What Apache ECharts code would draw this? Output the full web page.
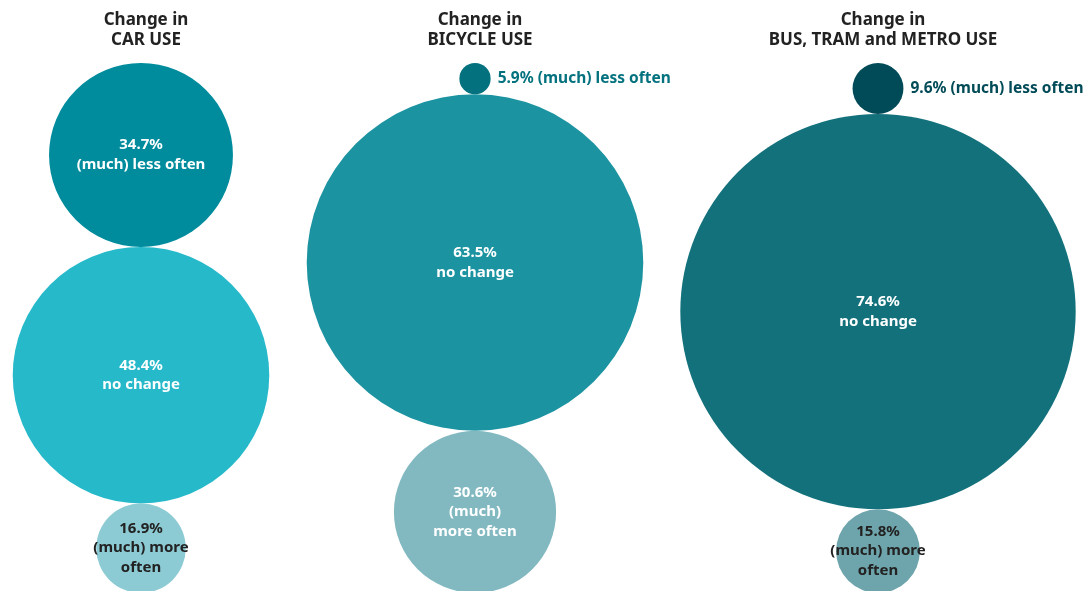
<!DOCTYPE html>
<html>
<head>
<meta charset="utf-8">
<script src="https://cdn.jsdelivr.net/npm/echarts@6/dist/echarts.min.js"></script>
<style>
  html, body { margin: 0; padding: 0; background: #ffffff; }
  #chart { width: 1084px; height: 591px; }
</style>
</head>
<body>
<div id="chart"></div>
<script>
// Share of respondents per mode of transport (percent)
const modes = ['CAR USE', 'BICYCLE USE', 'BUS, TRAM and METRO USE'];
const categories = ['(much) less often', 'no change', '(much) more often'];
const carUse = [34.7, 48.4, 16.9];
const bicycleUse = [5.9, 63.5, 30.6];
const transitUse = [9.6, 74.6, 15.8];

// Circle label text per category
const labelTexts = [
  v => v + '%\n(much) less often',
  v => v + '%\nno change',
  v => v + '%\n(much)\nmore often'
];

// Styling per column: colours for each category and text colours
const columnStyle = [
  { x: 141, colors: ['#008c9c', '#25b9ca', '#8ccbd4'], text: ['#ffffff', '#ffffff', '#222222'],
    moreText: v => v + '%\n(much) more\noften' },
  { x: 475, colors: ['#03727e', '#1b93a0', '#82b9c1'], text: ['#03727e', '#ffffff', '#ffffff'],
    moreText: v => v + '%\n(much)\nmore often' },
  { x: 878, colors: ['#004b57', '#13717c', '#6ea4ab'], text: ['#004b57', '#ffffff', '#222222'],
    moreText: v => v + '%\n(much) more\noften' }
];

const TOP = 63;        // top edge of every stack (px)
const K = 2.65;        // radius in px per percentage point
const SMALL = 12;      // below this share the label sits beside the circle
const FONT = '"Noto Sans", "Open Sans", sans-serif';

const columns = [carUse, bicycleUse, transitUse];
const series = [];

columns.forEach((values, ci) => {
  const st = columnStyle[ci];
  let prev = 0;
  values.forEach((v, i) => {
    const cy = TOP + K * (2 * prev + v);
    prev += v;
    const small = v < SMALL;
    const text = i === 2 ? st.moreText(v) : (small ? v + '% (much) less often' : labelTexts[i](v));
    series.push({
      type: 'scatter',
      name: modes[ci] + ' - ' + categories[i],
      silent: true,
      symbol: 'circle',
      symbolSize: 2 * K * v,
      itemStyle: { color: st.colors[i], opacity: 1 },
      label: {
        show: true,
        position: small ? 'right' : 'inside',
        distance: 7,
        formatter: () => text,
        color: st.text[i],
        fontFamily: FONT,
        fontWeight: 'bold',
        fontSize: small ? 15.5 : 15,
        lineHeight: 19.5,
        align: small ? 'left' : 'center'
      },
      data: [[st.x, cy]]
    });
  });
});

const titles = modes.map((m, ci) => ({
  text: 'Change in\n' + m,
  left: columnStyle[ci].x,
  top: 5,
  textAlign: 'center',
  textStyle: {
    fontFamily: FONT, fontWeight: 'bold', fontSize: 17, lineHeight: 20, color: '#222222'
  }
}));

const chart = echarts.init(document.getElementById('chart'), null, { renderer: 'canvas' });
chart.setOption({
  backgroundColor: '#ffffff',
  animation: false,
  title: titles,
  grid: { left: 0, right: 0, top: 0, bottom: 0 },
  xAxis: { type: 'value', min: 0, max: 1084, show: false },
  yAxis: { type: 'value', min: 0, max: 591, inverse: true, show: false },
  series: series
});
</script>
</body>
</html>
